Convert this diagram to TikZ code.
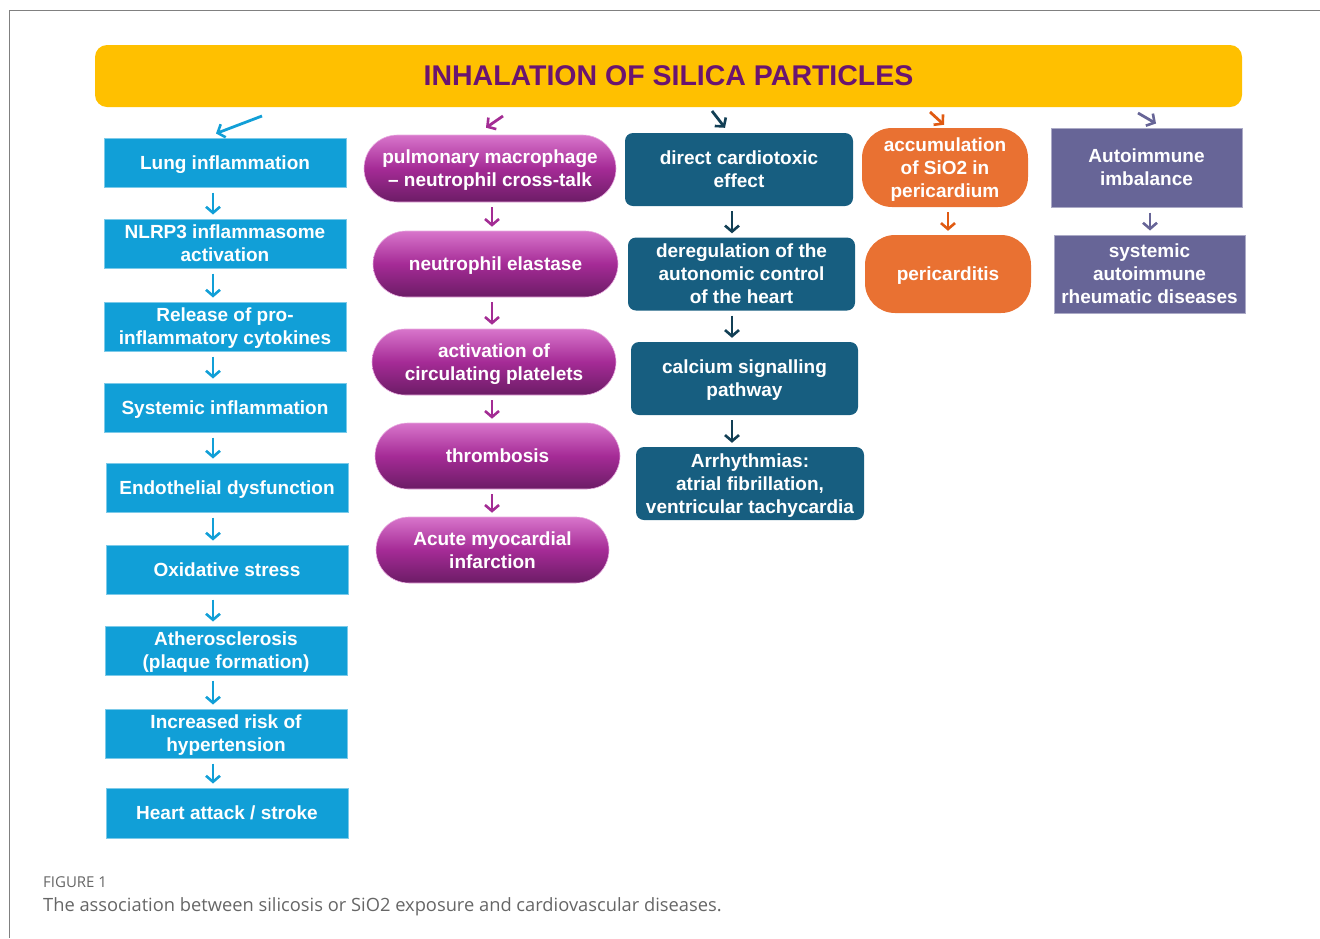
\documentclass[tikz,border=0pt]{standalone}
\usepackage{fontspec}
\setmainfont{Liberation Sans}
\newfontfamily\capfont{Open Sans}
\usetikzlibrary{arrows.meta,shapes.misc}

\definecolor{banneryellow}{HTML}{FFC000}
\definecolor{bannerpurple}{HTML}{6A1470}
\definecolor{lungblue}{HTML}{119FD7}
\definecolor{pilltop}{HTML}{D875CB}
\definecolor{pillmid}{HTML}{A52B96}
\definecolor{pillbot}{HTML}{6C1C66}
\definecolor{pillarrow}{HTML}{A32C94}
\definecolor{heartteal}{HTML}{175E80}
\definecolor{arrowteal}{HTML}{123F55}
\definecolor{periorange}{HTML}{E97132}
\definecolor{arroworange}{HTML}{E05A12}
\definecolor{immslate}{HTML}{676597}
\definecolor{capgray}{HTML}{666666}

\tikzset{
  box/.style={text=white,font=\bfseries\fontsize{19}{23}\selectfont,align=center,inner sep=0pt,text depth=0pt},
  lungbox/.style={box,fill=lungblue,draw=lungblue!55!white,line width=1pt,minimum width=242,minimum height=49},
  pillbox/.style={box,rounded rectangle,top color=pilltop,bottom color=pillbot,middle color=pillmid,draw=pilltop!60!white,line width=0.6pt,minimum height=66},
  tealbox/.style={box,fill=heartteal,rounded corners=8,minimum width=228,minimum height=73},
  peribox/.style={box,fill=periorange,rounded corners=30,minimum width=166,minimum height=79},
  immbox/.style={box,fill=immslate,draw=immslate!55!white,line width=1pt,minimum width=191,minimum height=78},
  flow/.style={line width=2.8pt,-{Straight Barb[length=6pt,width=14pt,line width=2.6pt]},shorten <=5pt,shorten >=4pt}
}

\begin{document}
\begin{tikzpicture}[x=1pt,y=-1pt]
\useasboundingbox (0,0) rectangle (1320,938);
\draw[gray,line width=1pt] (1320,10) -- (9,10) -- (9,938);

% banner
\node (banner) at (668.5,76) [fill=banneryellow,rounded corners=12,minimum width=1147,minimum height=62,text depth=0pt,
  text=bannerpurple,font=\bfseries\fontsize{28.5}{30}\selectfont] {INHALATION OF SILICA PARTICLES};

% lung column
\node (lung) at (225,162.5) [lungbox] {Lung inflammation};
\node (nlrp) at (225,243.5) [lungbox] {NLRP3 inflammasome\\activation};
\node (cyto) at (225,326.5) [lungbox] {Release of pro-\\inflammatory cytokines};
\node (sysinf) at (225,407.5) [lungbox] {Systemic inflammation};
\node (endo) at (227,487.5) [lungbox] {Endothelial dysfunction};
\node (oxid) at (227,569.5) [lungbox] {Oxidative stress};
\node (athero) at (226,650.5) [lungbox] {Atherosclerosis\\(plaque formation)};
\node (hyper) at (226,733.5) [lungbox] {Increased risk of\\hypertension};
\node (heart) at (227,813) [lungbox,minimum height=50] {Heart attack / stroke};

% platelet column
\node (macro) at (490,168.5) [pillbox,minimum width=252,minimum height=67] {pulmonary macrophage\\-- neutrophil cross-talk};
\node (elast) at (495.5,264) [pillbox,minimum width=245] {neutrophil elastase};
\node (platel) at (494,362) [pillbox,minimum width=244] {activation of\\circulating platelets};
\node (thromb) at (497.5,456) [pillbox,minimum width=245] {thrombosis};
\node (ami) at (492.5,550) [pillbox,minimum width=233] {Acute myocardial\\infarction};

% cardiac column
\node (cardio) at (739,169.5) [tealbox] {direct cardiotoxic\\effect};
\node (dereg) at (741.5,274) [tealbox,minimum width=227] {deregulation of the\\autonomic control\\of the heart};
\node (calc) at (744.5,378.5) [tealbox,minimum width=227] {calcium signalling\\pathway};
\node (arrhy) at (750,483.5) [tealbox] {Arrhythmias:\\atrial fibrillation,\\ventricular tachycardia};

% pericardium column
\node (accum) at (945,167.5) [peribox] {accumulation\\of SiO2 in\\pericardium};
\node (peri) at (948,274) [peribox,minimum height=78] {pericarditis};

% autoimmune column
\node (autoimm) at (1146.5,167.5) [immbox,minimum height=79] {Autoimmune\\imbalance};
\node (sard) at (1149.5,274) [immbox] {systemic\\autoimmune\\rheumatic diseases};

% arrows from the banner
\coordinate (s1) at (262,116);
\coordinate (s2) at (503,116);
\coordinate (s3) at (712,111);
\coordinate (s4) at (930,112);
\coordinate (s5) at (1138,113);
\draw[flow,lungblue,shorten <=0pt,shorten >=0pt] (s1) -- ([xshift=-9pt,yshift=4pt]lung.north);
\draw[flow,pillarrow,shorten <=0pt,shorten >=0pt] (s2) -- ([xshift=-4pt,yshift=7pt]macro.north);
\draw[flow,arrowteal,shorten <=0pt,shorten >=0pt] (s3) -- ([xshift=-14pt,yshift=5pt]cardio.north);
\draw[flow,arroworange,shorten <=0pt,shorten >=0pt] (s4) -- ([xshift=-1pt,yshift=3pt]accum.north);
\draw[flow,immslate,shorten <=0pt,shorten >=0pt] (s5) -- ([xshift=9.5pt,yshift=4pt]autoimm.north);

% arrows inside the columns
\foreach \a/\b in {lung/nlrp,nlrp/cyto,cyto/sysinf,sysinf/endo,endo/oxid,oxid/athero,athero/hyper,hyper/heart}
  \draw[flow,lungblue] (\a.south -| 213,0) -- (\b.north -| 213,0);
\foreach \a/\b in {macro/elast,elast/platel,platel/thromb,thromb/ami}
  \draw[flow,pillarrow] (\a.south -| 492,0) -- (\b.north -| 492,0);
\foreach \a/\b in {cardio/dereg,dereg/calc,calc/arrhy}
  \draw[flow,arrowteal] (\a.south -| 732,0) -- (\b.north -| 732,0);
\draw[flow,arroworange] (accum.south -| 948,0) -- (peri.north -| 948,0);
\draw[flow,immslate] (autoimm.south -| 1150,0) -- (sard.north -| 1150,0);

% caption
\node (figlabel) at (43,887) [anchor=base west,inner sep=0pt,text=capgray,font=\capfont\fontsize{15}{16}\selectfont] {FIGURE 1};
\node (figtext) at (43,911) [anchor=base west,inner sep=0pt,text=capgray,font=\capfont\fontsize{18.3}{20}\selectfont] {The association between silicosis or SiO2 exposure and cardiovascular diseases.};
\end{tikzpicture}
\end{document}
